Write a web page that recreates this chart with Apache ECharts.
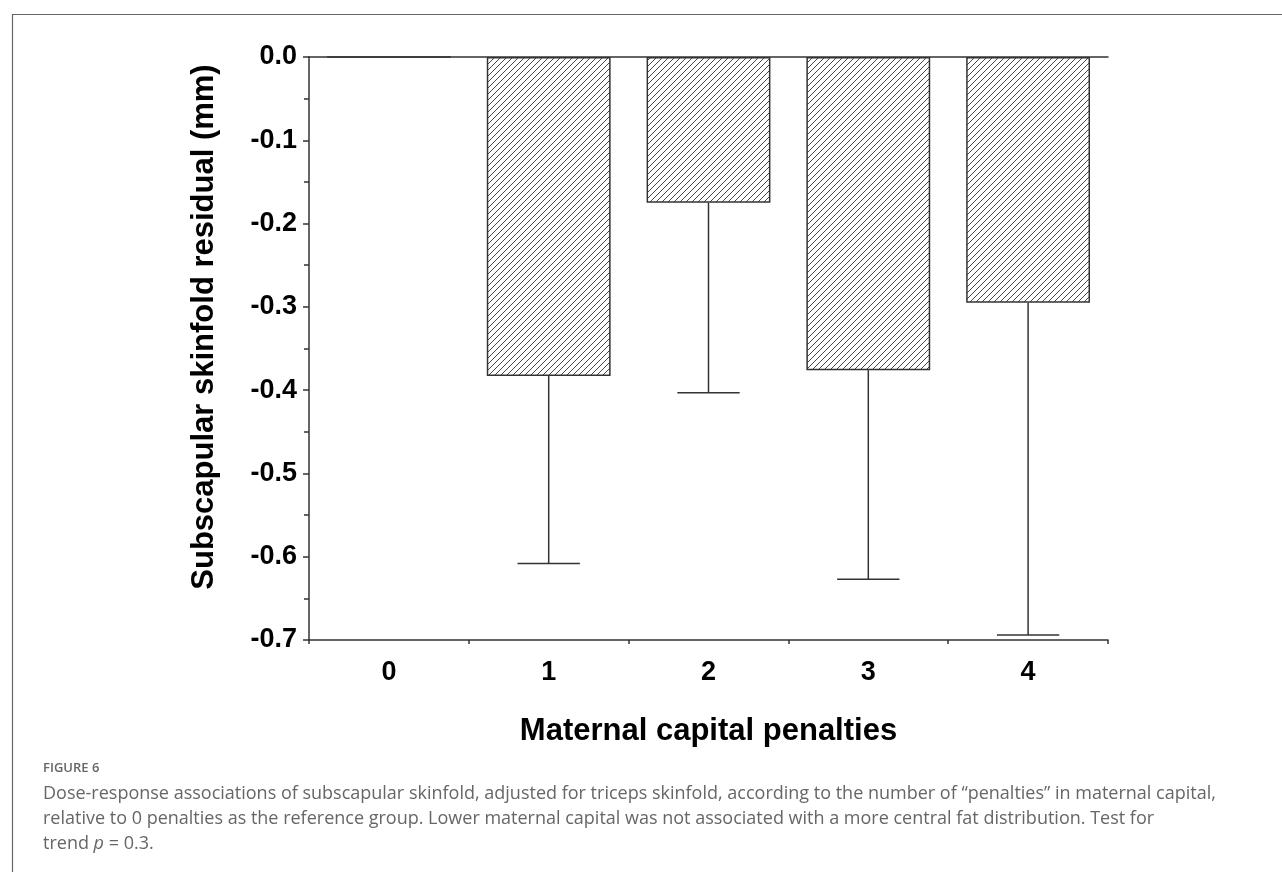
<!DOCTYPE html>
<html>
<head>
<meta charset="utf-8">
<script src="https://cdn.jsdelivr.net/npm/echarts@6/dist/echarts.min.js"></script>
<style>
html,body{margin:0;padding:0;background:#fff;}
#chart{width:1282px;height:872px;}
</style>
</head>
<body>
<div id="chart"></div>
<script>
// ---- data ----
const categories = ['0', '1', '2', '3', '4'];
const meanResidual = [0, -0.383, -0.175, -0.376, -0.295];
const lowerLimit = [null, -0.608, -0.403, -0.627, -0.694];
const yMin = -0.7, yMax = 0, yStep = 0.1;

const yTitle = 'Subscapular skinfold residual (mm)';
const xTitle = 'Maternal capital penalties';
const figLabel = 'FIGURE 6';
const captionLines = [
  'Dose-response associations of subscapular skinfold, adjusted for triceps skinfold, according to the number of \u201cpenalties\u201d in maternal capital,',
  'relative to 0 penalties as the reference group. Lower maternal capital was not associated with a more central fat distribution. Test for'
];

// hatch pattern
function hatch() {
  const s = 6;
  const c = document.createElement('canvas');
  c.width = s; c.height = s;
  const g = c.getContext('2d');
  g.fillStyle = '#fff';
  g.fillRect(0, 0, s, s);
  g.strokeStyle = '#333';
  g.lineWidth = 0.9;
  g.beginPath();
  g.moveTo(-1, s + 1); g.lineTo(s + 1, -1);
  g.moveTo(-1, 1); g.lineTo(1, -1);
  g.moveTo(s - 1, s + 1); g.lineTo(s + 1, s - 1);
  g.stroke();
  return c;
}

const chart = echarts.init(document.getElementById('chart'), null, {renderer: 'canvas'});
const axisColor = '#333';
const chartFont = '"Liberation Sans", Arial, Helvetica, sans-serif';
const capFont = '"Open Sans", sans-serif';
const capColor = '#666';

const errData = categories.map((c, i) => [i, meanResidual[i], lowerLimit[i]]).filter(d => d[2] !== null);

chart.setOption({
  animation: false,
  backgroundColor: '#fff',
  grid: {left: 309, right: 174, top: 57, bottom: 232},
  xAxis: [{
    type: 'category',
    data: categories,
    position: 'bottom',
    axisLine: {onZero: false, lineStyle: {color: axisColor, width: 1.5}},
    axisTick: {show: true, length: 4, lineStyle: {color: axisColor, width: 1.5}},
    axisLabel: {color: '#000', fontFamily: chartFont, fontWeight: 'bold', fontSize: 27, margin: 19},
    name: xTitle,
    nameLocation: 'middle',
    nameGap: 76,
    nameTextStyle: {color: '#000', fontFamily: chartFont, fontWeight: 'bold', fontSize: 31}
  }, {
    type: 'category',
    data: categories,
    position: 'top',
    axisLine: {onZero: false, lineStyle: {color: axisColor, width: 1.5}},
    axisTick: {show: false},
    axisLabel: {show: false}
  }],
  yAxis: {
    type: 'value',
    min: yMin, max: yMax, interval: yStep,
    axisLine: {show: true, lineStyle: {color: axisColor, width: 1.5}},
    axisTick: {show: true, length: 6, lineStyle: {color: axisColor, width: 1.5}},
    minorTick: {show: true, splitNumber: 2, length: 5, lineStyle: {color: axisColor, width: 1.5}},
    splitLine: {show: false},
    axisLabel: {
      color: '#000', fontFamily: chartFont, fontWeight: 'bold', fontSize: 27, margin: 12,
      formatter: v => (Math.abs(v) < 1e-9 ? 0 : v).toFixed(1)
    }
  },
  graphic: [
    {type: 'rect', left: 10, top: 12, shape: {width: 1400, height: 1000}, style: {fill: null, stroke: '#666', lineWidth: 1.2}, silent: true, z: -1},
    {type: 'text', x: 204, y: 327, rotation: Math.PI / 2,
     style: {text: yTitle, fill: '#000', font: 'bold 31px ' + chartFont, textAlign: 'center', textVerticalAlign: 'middle'}},
    {type: 'text', x: 43, y: 768,
     style: {text: figLabel, fill: capColor, font: '600 13px ' + capFont, textAlign: 'left', textVerticalAlign: 'middle'}},
    {type: 'text', x: 43, y: 794,
     style: {text: captionLines[0], fill: capColor, font: '18px ' + capFont, textAlign: 'left', textVerticalAlign: 'middle'}},
    {type: 'text', x: 43, y: 819,
     style: {text: captionLines[1], fill: capColor, font: '18px ' + capFont, textAlign: 'left', textVerticalAlign: 'middle'}},
    {type: 'text', x: 43, y: 844,
     style: {
       text: '{a|trend }{i|p}{a| = 0.3.}',
       rich: {
         a: {fill: capColor, font: '18px ' + capFont},
         i: {fill: capColor, font: 'italic 18px ' + capFont}
       },
       textAlign: 'left', textVerticalAlign: 'middle'
     }}
  ],
  series: [{
    type: 'bar',
    data: meanResidual,
    barCategoryGap: '22.5%',
    itemStyle: {color: {image: hatch(), repeat: 'repeat'}, borderColor: '#333', borderWidth: 1.5},
    z: 3
  }, {
    type: 'custom',
    data: errData,
    encode: {x: 0, y: [1, 2]},
    z: 2,
    renderItem: function (params, api) {
      const i = api.value(0);
      const top = api.coord([i, api.value(1)]);
      const bot = api.coord([i, api.value(2)]);
      const half = api.size([1, 0])[0] * 0.195;
      const st = {stroke: '#333', lineWidth: 1.5, fill: null};
      return {type: 'group', children: [
        {type: 'line', shape: {x1: top[0], y1: top[1], x2: bot[0], y2: bot[1]}, style: st},
        {type: 'line', shape: {x1: bot[0] - half, y1: bot[1], x2: bot[0] + half, y2: bot[1]}, style: st}
      ]};
    }
  }]
});
</script>
</body>
</html>
